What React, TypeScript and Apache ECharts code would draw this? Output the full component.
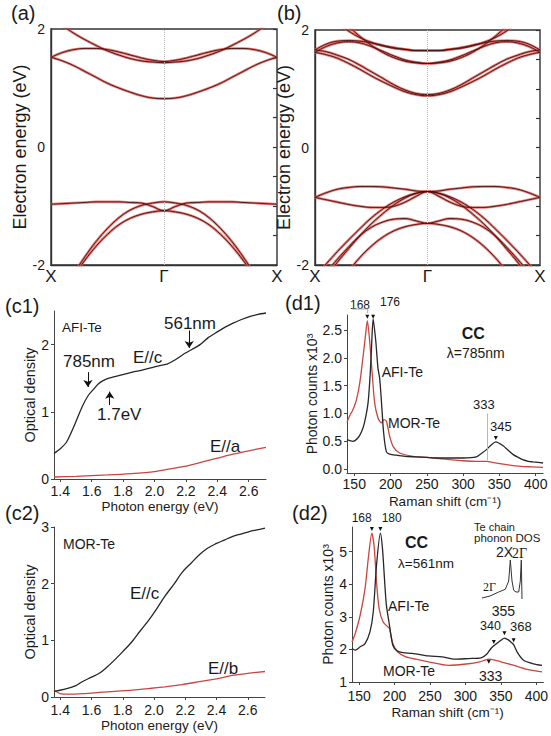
import React, { useEffect, useRef } from 'react';
import * as echarts from 'echarts';

// ---------------- (a), (b) band structures ----------------
const kPoints = [-1, -0.9, -0.8, -0.7, -0.6, -0.5, -0.4, -0.3, -0.2, -0.1, 0, 0.1, 0.2, 0.3, 0.4, 0.5, 0.6, 0.7, 0.8, 0.9, 1];
const kTickValues = [-1, 0, 1];
const kTickLabels = ['X', 'Γ', 'X'];
const energyTicks = [-2, 0, 2];

// band energies (eV) read from X (k=-1) to Γ (k=0); Γ→X is the mirror image
const bandsAFI = [
  [1.52, 1.46, 1.38, 1.28, 1.18, 1.08, 1.0, 0.93, 0.87, 0.83, 0.82],
  [1.52, 1.6, 1.65, 1.67, 1.67, 1.65, 1.61, 1.56, 1.51, 1.47, 1.45],
  [2.18, 2.06, 1.93, 1.82, 1.72, 1.63, 1.56, 1.5, 1.46, 1.44, 1.43],
  [-0.97, -0.96, -0.95, -0.94, -0.93, -0.93, -0.93, -0.94, -0.95, -1.01, -1.08],
  [-2.7, -2.45, -2.15, -1.86, -1.6, -1.38, -1.2, -1.07, -0.99, -0.95, -0.93],
  [-2.75, -2.5, -2.2, -1.92, -1.68, -1.48, -1.32, -1.21, -1.14, -1.1, -1.08],
];
const bandsMOR = [
  [1.62, 1.58, 1.52, 1.43, 1.33, 1.22, 1.12, 1.03, 0.95, 0.9, 0.88],
  [1.66, 1.63, 1.57, 1.5, 1.4, 1.29, 1.18, 1.07, 0.98, 0.92, 0.9],
  [1.62, 1.72, 1.78, 1.8, 1.78, 1.72, 1.64, 1.56, 1.49, 1.45, 1.43],
  [1.66, 1.76, 1.81, 1.82, 1.81, 1.78, 1.74, 1.7, 1.67, 1.65, 1.65],
  [2.55, 2.4, 2.23, 2.06, 1.89, 1.74, 1.62, 1.53, 1.47, 1.44, 1.43],
  [2.42, 2.28, 2.12, 1.98, 1.87, 1.79, 1.73, 1.69, 1.67, 1.65, 1.65],
  [-0.85, -0.77, -0.71, -0.68, -0.665, -0.665, -0.67, -0.69, -0.71, -0.74, -0.75],
  [-0.85, -0.89, -0.93, -0.97, -1.0, -1.02, -1.02, -1.0, -0.93, -0.83, -0.75],
  [-2.2, -1.98, -1.77, -1.57, -1.38, -1.2, -1.05, -0.93, -0.84, -0.78, -0.75],
  [-2.45, -2.2, -1.95, -1.72, -1.5, -1.3, -1.13, -0.98, -0.86, -0.78, -0.75],
  [-2.35, -2.12, -1.9, -1.69, -1.5, -1.36, -1.27, -1.22, -1.21, -1.25, -1.29],
  [-2.9, -2.62, -2.35, -2.1, -1.87, -1.68, -1.53, -1.42, -1.35, -1.31, -1.29],
];

// ---------------- (c1), (c2) optical density ----------------
const photonTicks = [1.4, 1.6, 1.8, 2.0, 2.2, 2.4, 2.6];
const c1Ticks = [0, 1, 2];
const c2Ticks = [0, 1, 2, 3];

const c1EcEnergy = [1.36, 1.4, 1.44, 1.49, 1.54, 1.58, 1.61, 1.64, 1.67, 1.71, 1.76, 1.81, 1.86, 1.92, 1.97, 2.02, 2.08, 2.13, 2.18, 2.24, 2.29, 2.34, 2.4, 2.45, 2.5, 2.55, 2.61, 2.66, 2.71];
const c1EcValue = [0.38, 0.45, 0.55, 0.8, 1.08, 1.25, 1.33, 1.41, 1.46, 1.5, 1.53, 1.56, 1.59, 1.62, 1.65, 1.68, 1.71, 1.77, 1.85, 1.93, 2.0, 2.1, 2.19, 2.26, 2.32, 2.37, 2.42, 2.45, 2.47];
const c1EaEnergy = [1.36, 1.5, 1.7, 1.85, 2.0, 2.1, 2.2, 2.3, 2.4, 2.5, 2.6, 2.71];
const c1EaValue = [0.03, 0.04, 0.06, 0.08, 0.11, 0.15, 0.19, 0.25, 0.31, 0.37, 0.42, 0.47];

const c2EcEnergy = [1.36, 1.43, 1.5, 1.54, 1.6, 1.65, 1.7, 1.75, 1.8, 1.86, 1.91, 1.97, 2.02, 2.07, 2.13, 2.18, 2.24, 2.29, 2.34, 2.4, 2.45, 2.5, 2.56, 2.61, 2.66, 2.71];
const c2EcValue = [0.1, 0.14, 0.2, 0.27, 0.35, 0.42, 0.53, 0.66, 0.8, 0.98, 1.16, 1.37, 1.57, 1.78, 2.0, 2.2, 2.37, 2.51, 2.62, 2.71, 2.77, 2.83, 2.88, 2.92, 2.95, 2.98];
const c2EbEnergy = [1.36, 1.4, 1.45, 1.55, 1.65, 1.75, 1.86, 1.97, 2.07, 2.18, 2.29, 2.4, 2.5, 2.61, 2.71];
const c2EbValue = [0.12, 0.06, 0.05, 0.06, 0.08, 0.1, 0.12, 0.15, 0.18, 0.22, 0.27, 0.32, 0.38, 0.42, 0.45];

// ---------------- (d1), (d2) Raman spectra ----------------
const ramanTicks = [150, 200, 250, 300, 350, 400];
const d1Ticks = [0, 0.5, 1, 1.5, 2, 2.5];
const d2Ticks = [1, 2, 3, 4, 5];

const d1AfiShift = [140, 148, 155, 160, 164, 169, 172, 174, 176, 179.5, 182.7, 185, 187.3, 190.5, 194.3, 199, 208, 220, 235, 250, 265, 280, 300, 318, 326, 332, 339, 345, 355, 362, 369, 376, 382, 390, 396, 403, 410];
const d1AfiCounts = [0.53, 0.5, 0.56, 0.67, 0.83, 1.19, 1.72, 2.25, 2.7, 2.32, 1.81, 1.63, 1.24, 0.65, 0.31, 0.27, 0.25, 0.23, 0.22, 0.21, 0.2, 0.2, 0.2, 0.22, 0.29, 0.35, 0.44, 0.49, 0.42, 0.34, 0.26, 0.21, 0.17, 0.14, 0.13, 0.12, 0.11];
const d1MorShift = [140, 143.4, 148.3, 152.9, 157.5, 162.1, 165.7, 168, 171.2, 174.4, 178.1, 182.7, 187.3, 191, 194.3, 198.8, 203.4, 212.6, 231, 250, 275, 300, 320, 333, 340, 360, 380, 395, 410];
const d1MorCounts = [0.84, 0.95, 1.07, 1.24, 1.54, 2.02, 2.43, 2.67, 2.31, 1.77, 1.19, 0.92, 0.83, 0.89, 0.86, 0.59, 0.41, 0.29, 0.23, 0.21, 0.18, 0.15, 0.14, 0.14, 0.12, 0.08, 0.05, 0.04, 0.03];

const d2AfiShift = [140, 144.6, 151.5, 158.4, 165.3, 170, 174.6, 180, 183, 186.1, 188.5, 192.1, 197.6, 204, 212, 225, 248, 267, 285, 304, 322, 330, 336, 341, 345, 350, 355, 360, 364, 368, 373, 382, 396, 408];
const d2AfiCounts = [2.03, 1.98, 2.08, 2.18, 2.54, 3.15, 4.59, 5.57, 5.1, 4.07, 3.36, 2.85, 2.13, 1.95, 1.9, 1.88, 1.8, 1.77, 1.7, 1.72, 1.74, 1.85, 2.03, 2.13, 2.2, 2.28, 2.35, 2.3, 2.23, 2.15, 1.92, 1.67, 1.56, 1.51];
const d2MorShift = [140, 144.6, 151.5, 158.4, 163, 168, 171.3, 174.6, 178.3, 183.8, 190.7, 193, 197.6, 204.5, 216, 230, 248, 276, 304, 320, 333, 340, 350, 368.5, 387, 408];
const d2MorCounts = [2.23, 2.49, 3.05, 3.87, 4.8, 5.57, 5.15, 4.07, 3.25, 2.85, 2.69, 2.64, 2.18, 1.92, 1.77, 1.7, 1.62, 1.51, 1.56, 1.62, 1.7, 1.68, 1.62, 1.51, 1.39, 1.31];

// inset: Te chain phonon DOS sketch (arbitrary units)
const dosFreq = [0, 8, 16.7, 23.3, 26.7, 28.3, 30, 31.7, 34, 36.7, 38.3, 39.3, 40];
const dosValue = [0, 2, 6, 8.7, 17, 38, 17, 7.7, 6, 6, 17, 38, -1];

const FONT = 'Liberation Sans, Arial, Helvetica, sans-serif';
const RED = '#c8463f';
const BLACK = '#262626';
const AXIS = '#444';
const TXT = '#1a1a1a';

const pairs = (xs: number[], ys: number[]) => xs.map((x, i) => [x, ys[i]]);

function bandSeries(bands: number[][], axisIndex: number, yIndex: number) {
  const out: any[] = [];
  bands.forEach((half, bi) => {
    const full = half.concat(half.slice(0, 10).reverse());
    const data = kPoints.map((k, i) => [k, full[i]]);
    const glow: any = {
      type: 'line', xAxisIndex: axisIndex, yAxisIndex: yIndex, data, smooth: 0.4,
      showSymbol: false, silent: true, z: 2,
      lineStyle: { color: '#de5b55', width: 2.6, opacity: 0.8 },
    };
    if (bi === 0) {
      glow.markLine = {
        silent: true, symbol: ['none', 'none'], label: { show: false },
        lineStyle: { color: '#b5b5b5', type: 'dotted', width: 1 },
        data: [{ xAxis: 0 }],
      };
    }
    out.push(glow);
    out.push({
      type: 'line', xAxisIndex: axisIndex, yAxisIndex: yIndex, data, smooth: 0.4,
      showSymbol: false, silent: true, z: 3,
      lineStyle: { color: '#3d0f0f', width: 0.9 },
    });
  });
  return out;
}

function bandAxes(gridIndex: number, nameGap: number) {
  const x = {
    type: 'value', gridIndex, min: -1, max: 1,
    axisLine: { show: true, onZero: false, lineStyle: { color: '#333', width: 1.4 } },
    axisTick: { show: false },
    axisLabel: {
      customValues: kTickValues, margin: 3, fontSize: 17, color: TXT, fontFamily: FONT,
      formatter: (v: number) => kTickLabels[kTickValues.indexOf(v)] ?? '',
    },
    splitLine: { show: false },
  };
  const yLeft = {
    type: 'value', gridIndex, min: -2, max: 2, position: 'left',
    axisLine: { show: true, onZero: false, lineStyle: { color: '#333', width: 1.4 } },
    axisTick: { show: false },
    axisLabel: { customValues: energyTicks, margin: 6, fontSize: 14, color: TXT, fontFamily: FONT, formatter: (v: number) => String(v) },
    splitLine: { show: false },
    name: 'Electron energy (eV)', nameLocation: 'middle', nameGap,
    nameTextStyle: { fontSize: 18, color: TXT, fontFamily: FONT },
  };
  const yRight = {
    type: 'value', gridIndex, min: -2, max: 2, interval: 0.5, position: 'right',
    axisLine: { show: false, onZero: false },
    axisTick: { show: true, inside: true, length: 4, lineStyle: { color: '#333', width: 1.2 } },
    axisLabel: { show: false },
    splitLine: { show: false },
  };
  return { x, yLeft, yRight };
}

function plotXAxis(gridIndex: number, min: number, max: number, ticks: number[], fmt: (v: number) => string, name: string, margin: number, nameGap: number) {
  return {
    type: 'value', gridIndex, min, max,
    axisLine: { show: true, onZero: false, lineStyle: { color: AXIS, width: 1 } },
    axisTick: { show: true, customValues: ticks, length: 3, lineStyle: { color: AXIS } },
    axisLabel: { customValues: ticks, formatter: fmt, margin, fontSize: 14, color: TXT, fontFamily: FONT },
    splitLine: { show: false },
    name, nameLocation: 'middle', nameGap,
    nameTextStyle: { fontSize: 13.5, color: TXT, fontFamily: FONT },
  };
}

function plotYAxis(gridIndex: number, min: number, max: number, ticks: number[], fmt: (v: number) => string, name: string, nameGap: number, nameSize: number) {
  return {
    type: 'value', gridIndex, min, max,
    axisLine: { show: true, onZero: false, lineStyle: { color: AXIS, width: 1 } },
    axisTick: { show: true, customValues: ticks, length: 3, lineStyle: { color: AXIS } },
    axisLabel: { customValues: ticks, formatter: fmt, margin: 5, fontSize: 14, color: TXT, fontFamily: FONT },
    splitLine: { show: false },
    name, nameLocation: 'middle', nameGap,
    nameTextStyle: { fontSize: nameSize, color: TXT, fontFamily: FONT },
  };
}

const txt = (text: string, x: number, y: number, fontSize: number, extra: any = {}) => ({
  type: 'text', x, y, silent: true, z: 100,
  style: {
    text, fontSize, fontFamily: FONT, fill: TXT,
    textAlign: 'left', textVerticalAlign: 'middle', align: 'left', verticalAlign: 'middle',
    ...extra,
  },
});

const peakMark = (coords: number[][]) => ({
  silent: true, symbol: 'triangle', symbolRotate: 180, symbolSize: [4, 4],
  itemStyle: { color: '#111' }, label: { show: false },
  data: coords.map((c) => ({ coord: c })),
});

function buildOption() {
  const fmt1 = (v: number) => v.toFixed(1);
  const fmt0 = (v: number) => String(v);
  const A = bandAxes(0, 14);
  const B = bandAxes(1, 12);

  const xAxis: any[] = [
    A.x, B.x,
    plotXAxis(2, 1.36, 2.71, photonTicks, fmt1, 'Photon energy (eV)', 5, 20),
    plotXAxis(3, 1.36, 2.71, photonTicks, fmt1, 'Photon energy (eV)', 6, 21),
    plotXAxis(4, 140, 410, ramanTicks, fmt0, 'Raman shift (cm⁻¹)', 4, 21),
    plotXAxis(5, 140, 410, ramanTicks, fmt0, 'Raman shift (cm⁻¹)', 7, 23),
    { type: 'value', gridIndex: 6, min: 0, max: 40, show: false },
  ];
  const yAxis: any[] = [
    A.yLeft, A.yRight, B.yLeft, B.yRight,
    plotYAxis(2, 0, 2.5, c1Ticks, fmt0, 'Optical density', 14, 14.5),
    plotYAxis(3, 0, 3, c2Ticks, fmt0, 'Optical density', 14, 14.5),
    plotYAxis(4, -0.07, 2.77, d1Ticks, fmt1, 'Photon counts x10³', 24, 14),
    plotYAxis(5, 1, 5.76, d2Ticks, fmt0, 'Photon counts x10³', 16, 14),
    { type: 'value', gridIndex: 6, min: -2, max: 40, show: false },
  ];

  const line = (xi: number, yi: number, data: number[][], color: string, extra: any = {}) => ({
    type: 'line', xAxisIndex: xi, yAxisIndex: yi, data, smooth: 0.25, showSymbol: false, silent: true,
    lineStyle: { color, width: 1.3 }, z: 3, ...extra,
  });

  const series: any[] = [
    ...bandSeries(bandsAFI, 0, 0),
    ...bandSeries(bandsMOR, 1, 2),
    line(2, 4, pairs(c1EaEnergy, c1EaValue), RED),
    line(2, 4, pairs(c1EcEnergy, c1EcValue), BLACK, {
      markLine: {
        silent: true, symbol: ['none', 'arrow'], symbolSize: 7, label: { show: false },
        lineStyle: { color: '#111', width: 1, type: 'solid' },
        data: [
          [{ coord: [1.576, 1.59] }, { coord: [1.576, 1.37] }],
          [{ coord: [2.221, 2.21] }, { coord: [2.221, 1.95] }],
          [{ coord: [1.715, 1.1] }, { coord: [1.715, 1.3] }],
        ],
      },
    }),
    line(3, 5, pairs(c2EbEnergy, c2EbValue), RED),
    line(3, 5, pairs(c2EcEnergy, c2EcValue), BLACK, { smooth: 0.4 }),
    line(4, 6, pairs(d1MorShift, d1MorCounts), RED, {
      markLine: {
        silent: true, symbol: ['none', 'none'], label: { show: false },
        lineStyle: { color: '#b8b8b8', width: 1, type: 'solid' },
        data: [[{ coord: [333, 1.0] }, { coord: [333, 0.16] }]],
      },
      markPoint: peakMark([[168, 2.74]]),
    }),
    line(4, 6, pairs(d1AfiShift, d1AfiCounts), BLACK, { markPoint: peakMark([[176, 2.74], [345, 0.56]]) }),
    line(5, 7, pairs(d2MorShift, d2MorCounts), RED, { markPoint: peakMark([[168, 5.7], [333, 1.62]]) }),
    line(5, 7, pairs(d2AfiShift, d2AfiCounts), BLACK, { markPoint: peakMark([[180, 5.7], [340, 2.23], [355, 2.5], [368, 2.28]]) }),
    line(6, 8, pairs(dosFreq, dosValue), '#333', { smooth: false, lineStyle: { color: '#333', width: 1 } }),
  ];

  const serif = { fontFamily: 'Liberation Serif, Times New Roman, serif' };
  const graphic: any[] = [
    txt('(a)', 11, 13, 20),
    txt('(b)', 277, 13, 20),
    txt('(c1)', 5, 306, 20),
    txt('(d1)', 285, 303, 20),
    txt('(c2)', 5, 513, 20),
    txt('(d2)', 292, 513, 20),
    // c1
    txt('AFI-Te', 62, 327.5, 13.5),
    txt('561nm', 164, 323, 17),
    txt('785nm', 63, 361.5, 17),
    txt('E//c', 133, 357, 17),
    txt('1.7eV', 97, 414, 17),
    txt('E//a', 210, 446.5, 17),
    // c2
    txt('MOR-Te', 63, 544, 14),
    txt('E//c', 130, 593.5, 17),
    txt('E//b', 208, 668.5, 17),
    // d1
    txt('168', 350, 305, 12),
    txt('176', 380, 302, 12),
    txt('CC', 461.7, 333.5, 16, { fontWeight: 'bold' }),
    txt('λ=785nm', 446.7, 353, 14),
    txt('AFI-Te', 381.7, 371.5, 14),
    txt('MOR-Te', 388, 422.5, 14),
    txt('333', 473, 404, 13),
    txt('345', 490, 426, 13),
    {
      type: 'polyline', silent: true, z: 100,
      shape: { points: [[352, 309], [367.7, 309], [367.7, 313]] },
      style: { stroke: '#aaa', lineWidth: 1, fill: 'none' },
    },
    // d2
    txt('168', 351.7, 518, 12),
    txt('180', 381.7, 518, 12),
    txt('CC', 405, 542.5, 16, { fontWeight: 'bold' }),
    txt('λ=561nm', 398, 563, 13.5),
    txt('AFI-Te', 388, 606, 14),
    txt('MOR-Te', 383, 671, 14),
    txt('333', 479, 676, 14),
    txt('355', 491.7, 611, 14),
    txt('340', 480, 626, 12.5),
    txt('368', 510, 626, 13),
    txt('Te chain', 474, 526.5, 11),
    txt('phonon DOS', 474, 537.5, 11.5),
    txt('2X', 496, 552, 14),
    txt('2Γ', 512, 553, 14, serif),
    txt('2Γ', 483, 587, 12, serif),
  ];

  return {
    animation: false,
    backgroundColor: '#fff',
    textStyle: { fontFamily: FONT },
    grid: [
      { left: 51, top: 29, width: 226, height: 236, show: true, borderColor: '#333', borderWidth: 1.4, backgroundColor: 'transparent' },
      { left: 315, top: 30, width: 225, height: 235, show: true, borderColor: '#333', borderWidth: 1.4, backgroundColor: 'transparent' },
      { left: 54, top: 311, width: 212, height: 168 },
      { left: 54, top: 527, width: 211, height: 170 },
      { left: 347, top: 315, width: 196, height: 158 },
      { left: 352, top: 527, width: 195, height: 155 },
      { left: 482, top: 558, width: 40, height: 42 },
    ],
    xAxis,
    yAxis,
    series,
    graphic,
  };
}

export default function App() {
  const ref = useRef<HTMLDivElement>(null);
  useEffect(() => {
    if (!ref.current) return;
    const chart = echarts.init(ref.current, undefined, { renderer: 'svg' });
    chart.setOption(buildOption() as any);
    return () => chart.dispose();
  }, []);
  return (
    <div
      ref={ref}
      style={{ position: 'absolute', left: 0, top: 0, width: 551, height: 736, background: '#fff' }}
    />
  );
}
